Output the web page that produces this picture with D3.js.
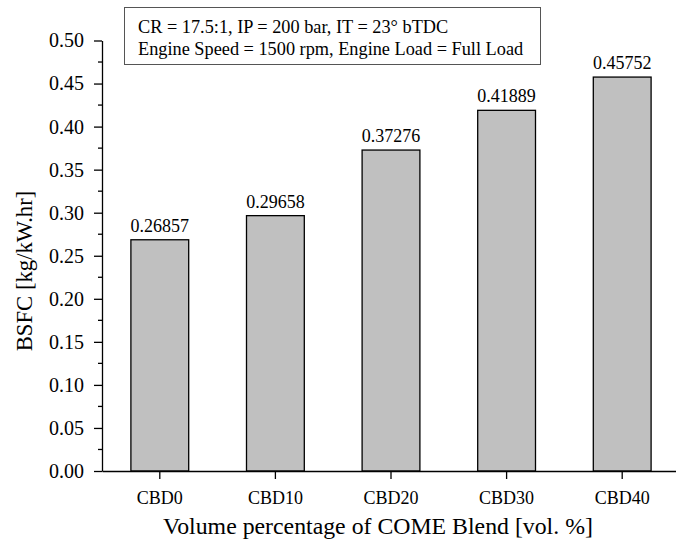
<!DOCTYPE html>
<html><head><meta charset="utf-8">
<script src="https://cdn.jsdelivr.net/npm/d3@7"></script>
<style>body{margin:0;background:#fff}svg{display:block}text{font-family:"Liberation Serif","Times New Roman",serif;fill:#000}</style>
</head><body>
<svg id="c" width="676" height="543"></svg>
<script>
const categories = ["CBD0","CBD10","CBD20","CBD30","CBD40"];
const bsfc = [0.26857,0.29658,0.37276,0.41889,0.45752];
const valueLabels = ["0.26857","0.29658","0.37276","0.41889","0.45752"];
const yTicks = [0,0.05,0.10,0.15,0.20,0.25,0.30,0.35,0.40,0.45,0.50];
const yMinor = [0.025,0.075,0.125,0.175,0.225,0.275,0.325,0.375,0.425,0.475];
const noteLines = ["CR = 17.5:1, IP = 200 bar, IT = 23° bTDC","Engine Speed = 1500 rpm, Engine Load = Full Load"];
const xTitle = "Volume percentage of COME Blend [vol. %]";
const yTitle = "BSFC [kg/kW.hr]";

const svg = d3.select("#c");
const x = d3.scaleBand().domain(categories).range([102,680]).paddingInner(0.5).paddingOuter(0.25);
const y = d3.scaleLinear().domain([0,0.5]).range([471,40.5]);

// bars
svg.append("g").selectAll("rect").data(categories).join("rect")
  .attr("x",d=>x(d)).attr("width",x.bandwidth())
  .attr("y",(d,i)=>y(bsfc[i])).attr("height",(d,i)=>y(0)-y(bsfc[i]))
  .attr("fill","#c0c0c0").attr("stroke","#000").attr("stroke-width",1.3);

// value labels
svg.append("g").selectAll("text").data(categories).join("text")
  .attr("x",d=>x(d)+x.bandwidth()/2).attr("y",(d,i)=>y(bsfc[i])-8)
  .attr("text-anchor","middle").attr("font-size",18).text((d,i)=>valueLabels[i]);

// y axis
const yAxis = d3.axisLeft(y).tickValues(yTicks).tickFormat(d3.format(".2f")).tickSize(8).tickSizeOuter(0).tickPadding(10);
const gy = svg.append("g").attr("transform","translate(102,0)").call(yAxis);
gy.selectAll("text").attr("font-size",20).attr("font-family","Liberation Serif");
gy.selectAll("line,path").attr("stroke","#000").attr("stroke-width",1.3);
gy.selectAll(".minor").data(yMinor).join("line").attr("class","minor")
  .attr("x1",-4).attr("x2",0).attr("y1",d=>y(d)).attr("y2",d=>y(d)).attr("stroke","#000").attr("stroke-width",1.3);

// x axis
const xAxis = d3.axisBottom(x).tickSize(8).tickSizeOuter(0).tickPadding(12);
const gx = svg.append("g").attr("transform","translate(0,471)").call(xAxis);
gx.selectAll("text").attr("font-size",18).attr("font-family","Liberation Serif");
gx.selectAll("line,path").attr("stroke","#000").attr("stroke-width",1.3);

// titles
svg.append("text").attr("x",378).attr("y",534).attr("text-anchor","middle").attr("font-size",23.8).text(xTitle);
svg.append("text").attr("transform","translate(32,271) rotate(-90)").attr("text-anchor","middle").attr("font-size",22.7).text(yTitle);

// note box
svg.append("rect").attr("x",124.5).attr("y",7.5).attr("width",416).attr("height",57)
  .attr("fill","#fff").attr("stroke","#555").attr("stroke-width",1);
svg.append("g").selectAll("text").data(noteLines).join("text")
  .attr("x",138).attr("y",(d,i)=>33+i*22).attr("font-size",18.3).text(d=>d);
</script>
</body></html>
